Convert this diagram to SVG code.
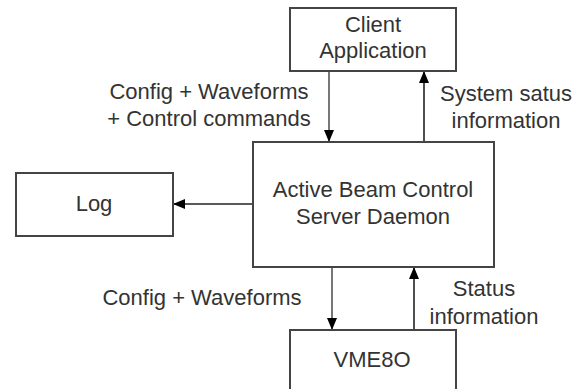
<svg xmlns="http://www.w3.org/2000/svg" width="585" height="389" viewBox="0 0 585 389">
  <style>
    .box { fill: #ffffff; stroke: #444444; stroke-width: 2; }
    .lbl { font-family: "Liberation Sans", Arial, sans-serif; font-size: 22px; fill: #333333; text-anchor: middle; }
    .conn { stroke: #222222; stroke-width: 1.6; fill: none; marker-end: url(#arrow); }
    .conn.grey { stroke: #555555; }
  </style>
  <defs>
    <marker id="arrow" markerUnits="userSpaceOnUse" markerWidth="14" markerHeight="14" refX="12" refY="6.5" orient="auto">
      <path d="M0,1.5 L12,6.5 L0,11.5 Z" fill="#000000"/>
    </marker>
  </defs>
  <rect width="585" height="389" fill="#ffffff"/>

  <g id="connectors">
    <line class="conn grey" x1="329" y1="71" x2="329" y2="142"/>
    <line class="conn" x1="424" y1="142" x2="424" y2="71"/>
    <line class="conn" x1="253" y1="204" x2="173" y2="204"/>
    <line class="conn grey" x1="332" y1="267" x2="332" y2="330"/>
    <line class="conn" x1="414" y1="330" x2="414" y2="267"/>
    <text class="lbl" x="209" y="99">Config + Waveforms</text>
    <text class="lbl" x="209" y="126">+ Control commands</text>
    <text class="lbl" x="506" y="101">System satus</text>
    <text class="lbl" x="506" y="128">information</text>
    <text class="lbl" x="202" y="305">Config + Waveforms</text>
    <text class="lbl" x="484" y="296">Status</text>
    <text class="lbl" x="484" y="324">information</text>
  </g>

  <g id="client">
    <rect class="box" x="290" y="8" width="166" height="63"/>
    <text class="lbl" x="373" y="32">Client</text>
    <text class="lbl" x="373" y="58">Application</text>
  </g>

  <g id="server">
    <rect class="box" x="253" y="142" width="241" height="125"/>
    <text class="lbl" x="373" y="197">Active Beam Control</text>
    <text class="lbl" x="373" y="224">Server Daemon</text>
  </g>

  <g id="log">
    <rect class="box" x="16" y="173" width="157" height="63"/>
    <text class="lbl" x="94" y="211">Log</text>
  </g>

  <g id="vme">
    <rect class="box" x="290" y="330" width="166" height="70"/>
    <text class="lbl" x="372" y="367">VME8O</text>
  </g>
</svg>
